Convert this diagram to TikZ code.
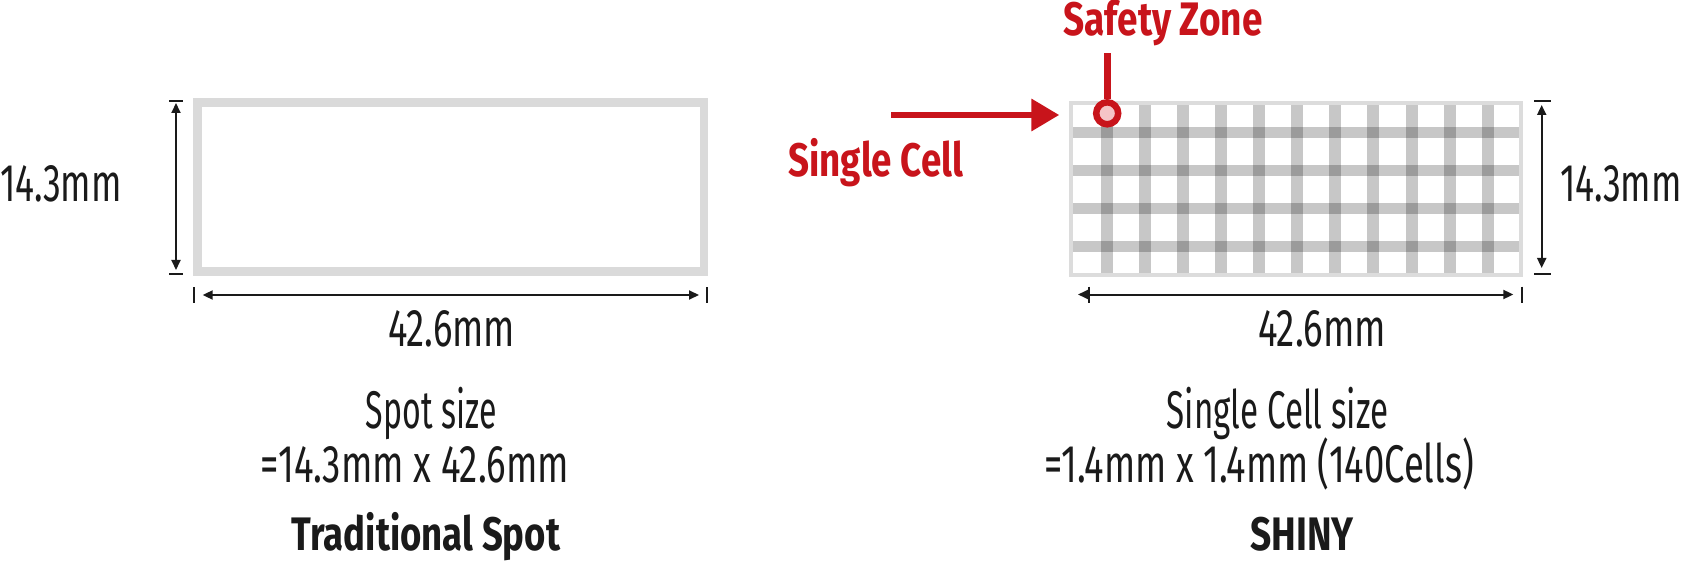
\documentclass[tikz,border=0pt]{standalone}
\usepackage{fontspec}
\usepackage{graphicx}
\usetikzlibrary{arrows.meta}
\newfontfamily\lightf{Fira Sans}
\newfontfamily\boldf{Fira Sans}
\definecolor{ink}{HTML}{1A1A1A}
\definecolor{redz}{RGB}{200,20,27}
\definecolor{pinkz}{RGB}{245,196,199}
\definecolor{boxg}{HTML}{DADADA}
\definecolor{boxh}{HTML}{DCDCDC}
\newcommand{\lt}[2]{\resizebox{#1pt}{\height}{\lightf\fontsize{53}{60}\selectfont #2}}
\newcommand{\bt}[2]{\resizebox{#1pt}{\height}{\boldf\bfseries\fontsize{47}{54}\selectfont #2}}
\begin{document}
\begin{tikzpicture}[x=1pt,y=-1pt,
  txt/.style={inner sep=0pt, anchor=base, text=ink},
  dimln/.style={draw=ink, line width=2pt, {Triangle[length=10pt,width=9pt]}-{Triangle[length=10pt,width=9pt]}},
  tickln/.style={draw=ink, line width=2pt},
  bar/.style={fill=black, fill opacity=0.22},
  redl/.style={draw=redz, line width=6.6pt}]
\useasboundingbox (0,0) rectangle (1682,564);

% ---------- left: traditional spot ----------
\node (spot) [draw=boxg, line width=8.4pt, minimum width=506.3pt, minimum height=169.2pt, inner sep=0pt] at (450.65,187.1) {};

\coordinate (lvt) at (176,103);
\coordinate (lvb) at (176,270);
\draw[dimln] (lvt) -- (lvb);
\coordinate (lvt1) at (169,100.7); \coordinate (lvt2) at (183.3,100.7);
\coordinate (lvb1) at (169,274.3); \coordinate (lvb2) at (183.3,274.3);
\draw[tickln] (lvt1) -- (lvt2);
\draw[tickln] (lvb1) -- (lvb2);

\coordinate (lhl) at (202.7,295);
\coordinate (lhr) at (699,295);
\draw[dimln] (lhl) -- (lhr);
\coordinate (lhl1) at (194.3,287); \coordinate (lhl2) at (194.3,303);
\coordinate (lhr1) at (706.7,287); \coordinate (lhr2) at (706.7,303);
\draw[tickln] (lhl1) -- (lhl2);
\draw[tickln] (lhr1) -- (lhr2);

\node[txt] (lh) at (60.9,201.5) {\lt{121.7}{14.3mm}};
\node[txt] (lw) at (451.5,346.7) {\lt{127}{42.6mm}};
\node[txt] (lsz) at (431.3,428.3) {\lt{130.7}{Spot size}};
\node[txt] (ldim) at (414.8,482.7) {\lt{308.3}{=14.3mm x 42.6mm}};
\node[txt] (ltitle) at (426,550) {\bt{268.2}{Traditional Spot}};

% ---------- right: SHINY ----------
\foreach \i in {0,...,10}
  \fill[bar] ({1100.7+38.1*\i},104.7) rectangle ++(12,168.3);
\foreach \y in {126.7,164.7,202.7,240.7}
  \fill[bar] (1072.7,\y) rectangle (1519.3,{\y+11.3});

\node (shiny) [draw=boxh, line width=4pt, minimum width=450.3pt, minimum height=172.3pt, inner sep=0pt] at (1296.15,188.85) {};

\coordinate (rvt) at (1541.7,105);
\coordinate (rvb) at (1541.7,268);
\draw[dimln] (rvt) -- (rvb);
\coordinate (rvt1) at (1534,100.7); \coordinate (rvt2) at (1550.7,100.7);
\coordinate (rvb1) at (1534,274.3); \coordinate (rvb2) at (1550.7,274.3);
\draw[tickln] (rvt1) -- (rvt2);
\draw[tickln] (rvb1) -- (rvb2);

\coordinate (rhl) at (1078,294.5);
\coordinate (rhr) at (1513.3,294.5);
\draw[dimln] (rhl) -- (rhr);
\coordinate (rhl1) at (1089,286.7); \coordinate (rhl2) at (1089,302.7);
\coordinate (rhr1) at (1521.7,286.7); \coordinate (rhr2) at (1521.7,302.7);
\draw[tickln] (rhl1) -- (rhl2);
\draw[tickln] (rhr1) -- (rhr2);

\node[txt] (rh) at (1620.9,201.5) {\lt{121.7}{14.3mm}};
\node[txt] (rw) at (1322,346.7) {\lt{127.7}{42.6mm}};
\node[txt] (rsz) at (1277.5,428.3) {\lt{221.6}{Single Cell size}};
\node[txt] (rdim) at (1259,482.7) {\lt{430}{=1.4mm x 1.4mm (140Cells)}};
\node[txt] (rtitle) at (1302.3,550.5) {\bt{103.3}{SHINY}};

% ---------- red annotations ----------
\node (zone) [circle, draw=redz, fill=pinkz, line width=6.5pt, minimum size=22pt, inner sep=0pt] at (1107.2,113.3) {};
\coordinate (zonetop) at (1107.2,53.3);
\draw[redl] (zonetop) -- (zone.north);
\node[txt, text=redz] (safety) at (1163,36) {\bt{199.4}{Safety Zone}};

\coordinate (cella) at (891,115);
\coordinate (cellb) at (1059.3,115);
\draw[redl, -{Triangle[length=28pt,width=31pt]}] (cella) -- (cellb);
\node[txt, text=redz] (single) at (875.8,176.7) {\bt{175}{Single Cell}};
\end{tikzpicture}
\end{document}
